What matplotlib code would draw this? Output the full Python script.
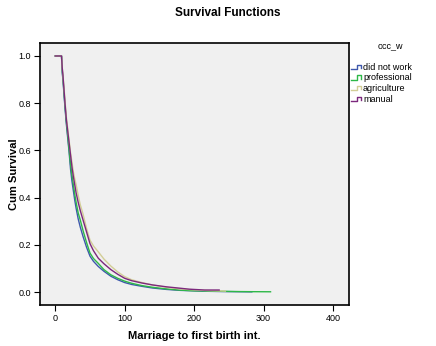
import matplotlib
matplotlib.use('Agg')
import matplotlib.pyplot as plt
from matplotlib.lines import Line2D

plt.rcParams['font.family'] = ['Liberation Sans', 'DejaVu Sans']

groups = ['did not work', 'professional', 'agriculture', 'manual']
colors = ['#3E58AC', '#2EB848', '#D3CE97', '#7C287D']

# survival estimates (time, cum survival)
t_notwork = [0, 9, 10, 11, 12, 13, 14, 16, 18, 20, 22, 24, 26, 28, 30, 33, 36, 40, 45, 50,
             55, 62, 70, 80, 90, 100, 110, 125, 140, 160, 180, 200, 220, 240, 260, 283]
s_notwork = [1.0, 1.0, 0.93, 0.90, 0.86, 0.82, 0.78, 0.71, 0.65, 0.59, 0.52, 0.47, 0.43, 0.39,
             0.355, 0.31, 0.275, 0.235, 0.19, 0.152, 0.13, 0.108, 0.088, 0.067, 0.052, 0.04,
             0.032, 0.024, 0.017, 0.011, 0.007, 0.005, 0.003, 0.002, 0.0015, 0.0008]

t_prof = [0, 9, 10, 11, 12, 13, 14, 16, 18, 20, 22, 24, 26, 28, 30, 33, 36, 40, 45, 50,
          55, 62, 70, 80, 90, 100, 110, 125, 140, 160, 180, 200, 220, 240, 260, 280, 310]
s_prof = [1.0, 1.0, 0.94, 0.905, 0.87, 0.83, 0.79, 0.72, 0.66, 0.60, 0.54, 0.495, 0.455, 0.415,
          0.38, 0.335, 0.305, 0.26, 0.21, 0.165, 0.142, 0.121, 0.095, 0.073, 0.058, 0.046,
          0.037, 0.027, 0.02, 0.013, 0.008, 0.005, 0.004, 0.003, 0.002, 0.0015, 0.001]

t_agri = [0, 9, 10, 11, 12, 13, 14, 16, 18, 20, 22, 24, 26, 28, 30, 33, 36, 40, 45, 50,
          55, 62, 70, 80, 90, 100, 110, 125, 140, 160, 180, 200, 220, 245]
s_agri = [1.0, 1.0, 0.95, 0.92, 0.885, 0.85, 0.81, 0.74, 0.69, 0.64, 0.59, 0.55, 0.51, 0.48,
          0.455, 0.41, 0.37, 0.33, 0.27, 0.22, 0.195, 0.17, 0.14, 0.11, 0.085, 0.065,
          0.052, 0.04, 0.03, 0.02, 0.013, 0.009, 0.006, 0.004]

t_manual = [0, 9, 10, 11, 12, 13, 14, 16, 18, 20, 22, 24, 26, 28, 30, 33, 36, 40, 45, 50,
            55, 62, 70, 80, 90, 100, 110, 125, 140, 160, 180, 193, 215, 236]
s_manual = [1.0, 1.0, 0.95, 0.92, 0.88, 0.84, 0.80, 0.73, 0.68, 0.63, 0.58, 0.53, 0.49, 0.455,
            0.42, 0.38, 0.345, 0.305, 0.255, 0.205, 0.175, 0.143, 0.12, 0.095, 0.075, 0.058,
            0.048, 0.038, 0.03, 0.022, 0.016, 0.012, 0.0085, 0.0085]

series = [(t_notwork, s_notwork), (t_prof, s_prof), (t_agri, s_agri), (t_manual, s_manual)]

fig = plt.figure(figsize=(4.36, 3.46), dpi=100)
ax = fig.add_axes([40 / 436, 41 / 346, 309 / 436, 262 / 346])
ax.set_facecolor('#F0F0F0')

for (t, s), c in zip(series, colors):
    ax.plot(t, s, color=c, linewidth=1.0)

ax.set_xlim(-22, 423)
ax.set_ylim(-0.055, 1.055)
ax.set_xticks([0, 100, 200, 300, 400])
ax.set_yticks([0.0, 0.2, 0.4, 0.6, 0.8, 1.0])
ax.set_yticklabels(['0.0', '0.2', '0.4', '0.6', '0.8', '1.0'])
ax.tick_params(labelsize=6.5, length=4.5, width=0.8, pad=2)
for sp in ax.spines.values():
    sp.set_linewidth(1.2)

ax.set_xlabel('Marriage to first birth int.', fontsize=8, fontweight='bold', labelpad=6)
ax.set_ylabel('Cum Survival', fontsize=8, fontweight='bold')
ax.yaxis.set_label_coords(-21 / 309, 0.5)
fig.text(228 / 436, 1 - 13 / 346, 'Survival Functions', fontsize=8.5, fontweight='bold',
         ha='center', va='center')

# legend
fig.text(390 / 436, 1 - 46 / 346, 'occ_w', fontsize=6.5, ha='center', va='center')
for i, (g, c) in enumerate(zip(groups, colors)):
    y = 1 - (67 + i * 10.7) / 346
    x0 = 351 / 436
    xs = [x0, x0 + 6 / 436, x0 + 6 / 436, x0 + 10 / 436, x0 + 10 / 436]
    ys = [y - 2 / 346, y - 2 / 346, y + 2.5 / 346, y + 2.5 / 346, y - 1 / 346]
    fig.add_artist(Line2D(xs, ys, color=c, linewidth=1.0, transform=fig.transFigure))
    fig.text(363 / 436, y, g, fontsize=6.5, ha='left', va='center')

fig.savefig('out.png', dpi=100)
